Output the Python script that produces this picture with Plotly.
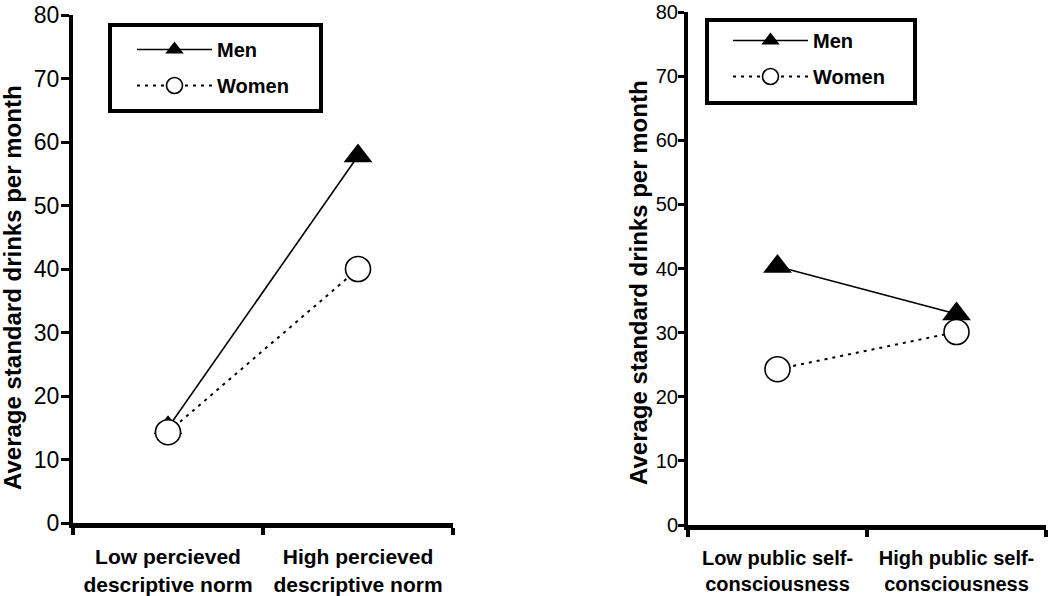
import plotly.graph_objects as go

# ---- data ----
left_categories = ["Low percieved<br>descriptive norm", "High percieved<br>descriptive norm"]
right_categories = ["Low public self-<br>consciousness", "High public self-<br>consciousness"]
left_men = [15.0, 57.8]
left_women = [14.3, 40.0]
right_men = [40.3, 32.9]
right_women = [24.3, 30.1]
y_ticks = [0, 10, 20, 30, 40, 50, 60, 70, 80]
y_title = "Average standard drinks per month"

FONT = "Arial, Liberation Sans, sans-serif"
x_pos = [0, 1]
W, H = 1050, 596

fig = go.Figure()

def add_pair(xa, ya, men, women, legend, msize_tri, msize_circ):
    fig.add_trace(go.Scatter(
        x=x_pos, y=men, xaxis=xa, yaxis=ya, name="Men", legend=legend,
        legendgroup=legend + "m",
        mode="lines+markers",
        line=dict(color="black", width=1.6),
        marker=dict(symbol="triangle-up", size=msize_tri, color="black"),
    ))
    fig.add_trace(go.Scatter(
        x=x_pos, y=women, xaxis=xa, yaxis=ya, name="Women", legend=legend,
        legendgroup=legend + "w",
        mode="lines+markers",
        line=dict(color="black", width=2, dash="3px,5px"),
        marker=dict(symbol="circle", size=msize_circ, color="white",
                    line=dict(color="black", width=1.6)),
    ))

add_pair("x", "y", left_men, left_women, "legend", 25, 25)
add_pair("x2", "y2", right_men, right_women, "legend2", 25, 25)

def xaxis_cfg(x0, x1, cats, fsize, anchor):
    return dict(
        domain=[x0 / W, x1 / W], range=[-0.5, 1.5], anchor=anchor, automargin=False,
        tickmode="array", tickvals=x_pos, ticktext=cats, ticks="",
        tickfont=dict(family=FONT, size=fsize, color="black", weight="bold"),
        ticklabelstandoff=11, ticklabeloverflow="allow",
        showline=True, linecolor="black", linewidth=5,
        showgrid=False, zeroline=False,
        minor=dict(tickmode="array", tickvals=[-0.5, 0.5, 1.5], ticks="outside",
                   ticklen=7, tickwidth=4, tickcolor="black", showgrid=False),
    )

def yaxis_cfg(ytop, ybot, fsize, anchor, ticklen, standoff):
    return dict(
        domain=[(H - ybot) / H, (H - ytop) / H], range=[0, 80], anchor=anchor,
        automargin=False, ticklabeloverflow="allow",
        tickmode="array", tickvals=y_ticks,
        ticks="outside", ticklen=ticklen, tickwidth=3, tickcolor="black",
        ticklabelstandoff=standoff,
        tickfont=dict(family=FONT, size=fsize, color="black"),
        showline=True, linecolor="black", linewidth=4,
        showgrid=False, zeroline=False,
    )

legend_font = dict(family=FONT, size=20, color="black", weight="bold")

fig.update_layout(
    width=W, height=H,
    margin=dict(l=0, r=0, t=0, b=0),
    paper_bgcolor="white", plot_bgcolor="white",
    xaxis=xaxis_cfg(73, 453, left_categories, 21, "y"),
    yaxis=yaxis_cfg(15, 523, 23, "x", 8, -3),
    xaxis2=xaxis_cfg(688, 1046, right_categories, 20, "y2"),
    yaxis2=yaxis_cfg(12, 525, 20, "x2", 6, -4),
    legend=dict(x=132 / W, y=(H - 30) / H, xanchor="left", yanchor="top",
                borderwidth=0, bgcolor="rgba(0,0,0,0)", font=legend_font,
                itemwidth=75, tracegroupgap=7),
    legend2=dict(x=728 / W, y=(H - 21) / H, xanchor="left", yanchor="top",
                 borderwidth=0, bgcolor="rgba(0,0,0,0)", font=legend_font,
                 itemwidth=75, tracegroupgap=7),
    shapes=[
        dict(type="rect", xref="paper", yref="paper", layer="below",
             x0=110 / W, x1=321 / W, y0=(H - 111) / H, y1=(H - 25) / H,
             line=dict(color="black", width=4), fillcolor="white"),
        dict(type="rect", xref="paper", yref="paper", layer="below",
             x0=707 / W, x1=915 / W, y0=(H - 103) / H, y1=(H - 20) / H,
             line=dict(color="black", width=4), fillcolor="white"),
    ],
    annotations=[
        dict(text=y_title, textangle=-90, xref="paper", yref="paper",
             x=12 / W, y=(H - 288) / H, xanchor="center", yanchor="middle",
             showarrow=False,
             font=dict(family=FONT, size=24, color="black", weight="bold")),
        dict(text=y_title, textangle=-90, xref="paper", yref="paper",
             x=638 / W, y=(H - 283) / H, xanchor="center", yanchor="middle",
             showarrow=False,
             font=dict(family=FONT, size=24, color="black", weight="bold")),
    ],
)

fig.write_html("out.html", config={"displayModeBar": False},
               post_script="document.body.style.margin='0px';")
